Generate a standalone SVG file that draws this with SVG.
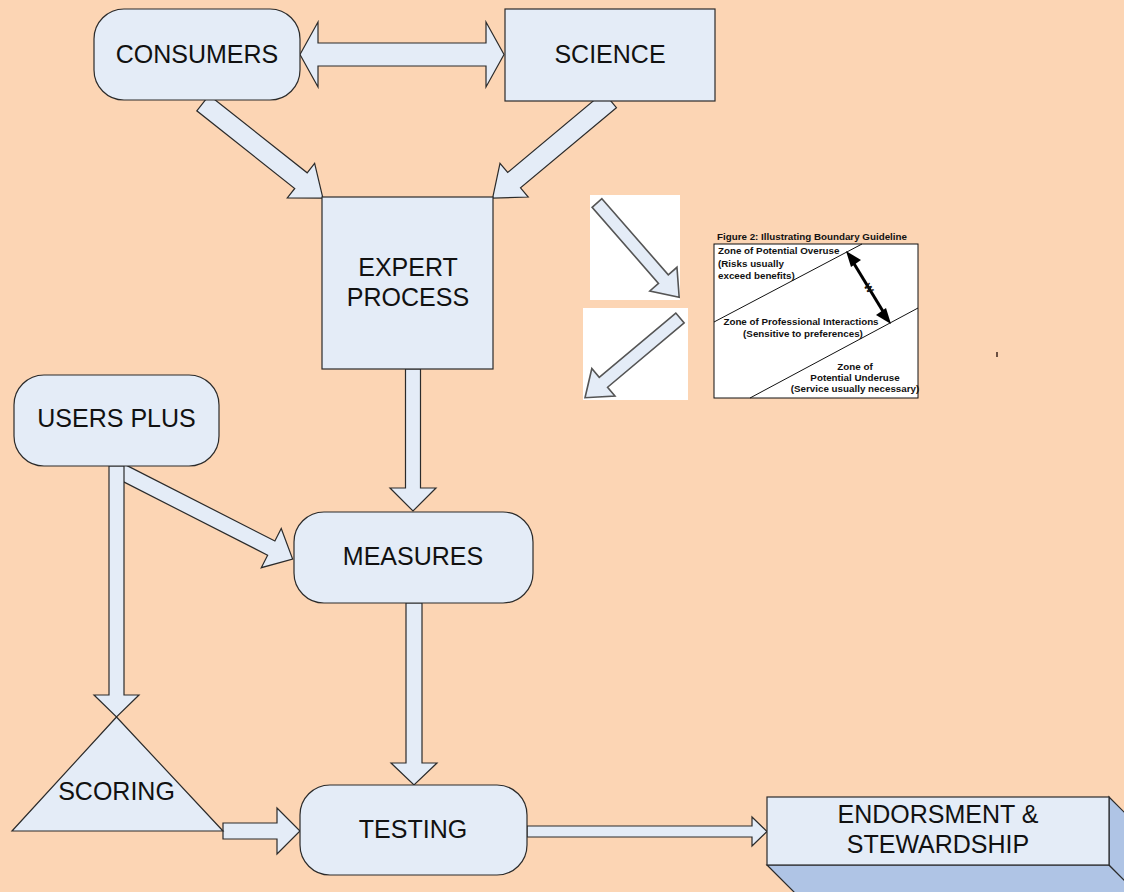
<svg xmlns="http://www.w3.org/2000/svg" width="1124" height="892" viewBox="0 0 1124 892">
<style>
.n{fill:#E4ECF7;stroke:#2b2b2b;stroke-width:1.2}
.a{fill:#E4ECF7;stroke:#2b2b2b;stroke-width:1.2;stroke-linejoin:miter}
.ga{fill:#E4ECF7;stroke:#555;stroke-width:1.6}
.t{font-family:"Liberation Sans",Arial,sans-serif;font-size:25px;fill:#111;text-anchor:middle}
.f{font-family:"Liberation Sans",Arial,sans-serif;font-size:9.8px;font-weight:bold;fill:#111}
.side{fill:#AFC4E5;stroke:#2b2b2b;stroke-width:1.2}
</style>
<rect width="1124" height="892" fill="#FCD5B4"/>

<g id="connectors">
  <polygon class="a" points="300,54.5 318,22 318,43 486,43 486,22 504,54.5 486,87 486,66 318,66 318,87"/>
  <polygon class="a" transform="translate(203,103) rotate(38.4)" points="0,-10 125,-10 125,-22 153,0 125,22 125,10 0,10"/>
  <polygon class="a" transform="translate(610,100) rotate(140.1)" points="0,-10 125,-10 125,-22 153,0 125,22 125,10 0,10"/>
  <polygon class="a" points="405.5,369 420.5,369 420.5,488 436,488 413,511 390,488 405.5,488"/>
  <polygon class="a" transform="translate(118,470) rotate(27)" points="0,-8 172,-8 172,-22 196,0 172,22 172,8 0,8"/>
  <polygon class="a" points="109,466 124,466 124,695 139,695 116.5,717 94,695 109,695"/>
  <polygon class="a" points="406,603 422,603 422,763 437,763 414,785 391,763 406,763"/>
  <polygon class="a" points="223,823 277,823 277,808 300,831 277,854 277,839 223,839"/>
  <polygon class="a" points="527,826 752,826 752,817 767,831.5 752,846 752,837 527,837"/>
</g>

<g id="consumers">
  <rect class="n" x="94" y="9" width="206" height="91" rx="30"/>
  <text class="t" x="197" y="63">CONSUMERS</text>
</g>
<g id="science">
  <rect class="n" x="505" y="9" width="210" height="92"/>
  <text class="t" x="610" y="63">SCIENCE</text>
</g>
<g id="expert-process">
  <rect class="n" x="322" y="197" width="171" height="172"/>
  <text class="t" x="408" y="276">EXPERT</text>
  <text class="t" x="408" y="306">PROCESS</text>
</g>
<g id="users-plus">
  <rect class="n" x="14" y="375" width="205" height="91" rx="30"/>
  <text class="t" x="116.5" y="427">USERS PLUS</text>
</g>
<g id="measures">
  <rect class="n" x="294" y="512" width="239" height="91" rx="30"/>
  <text class="t" x="413" y="565">MEASURES</text>
</g>
<g id="scoring">
  <polygon class="n" points="116.5,717 223,831 12,831"/>
  <text class="t" x="116.5" y="800">SCORING</text>
</g>
<g id="testing">
  <rect class="n" x="300" y="785" width="227" height="90" rx="30"/>
  <text class="t" x="413" y="838">TESTING</text>
</g>
<g id="endorsment">
  <polygon class="side" points="767,865 1109,865 1159,915 817,915"/>
  <polygon class="side" points="1109,797 1159,847 1159,915 1109,865"/>
  <rect class="n" x="767" y="797" width="342" height="68"/>
  <text class="t" x="938" y="823">ENDORSMENT &amp;</text>
  <text class="t" x="938" y="853">STEWARDSHIP</text>
</g>

<g id="inset-arrows">
  <rect x="590" y="195" width="90" height="105" fill="#fff"/>
  <polygon class="ga" transform="translate(597,203) rotate(48.9)" points="0,-6.5 101,-6.5 101,-18 125,0 101,18 101,6.5 0,6.5"/>
  <rect x="583" y="308" width="105" height="92" fill="#fff"/>
  <svg x="583" y="308" width="105" height="92" overflow="hidden">
    <polygon class="ga" transform="translate(97,10) rotate(140)" points="0,-6.5 100,-6.5 100,-18 124,0 100,18 100,6.5 0,6.5"/>
  </svg>
</g>

<g id="figure2">
  <text class="f" x="717" y="240">Figure 2: Illustrating Boundary Guideline</text>
  <rect x="714" y="244" width="204" height="154" fill="#fff" stroke="#111" stroke-width="1"/>
  <line x1="714" y1="322" x2="862" y2="244" stroke="#111" stroke-width="1"/>
  <line x1="750" y1="398" x2="918" y2="308" stroke="#111" stroke-width="1"/>
  <line x1="853" y1="262" x2="884" y2="313" stroke="#000" stroke-width="3"/>
  <polygon points="846,251 861,260 851,267" fill="#000"/>
  <polygon points="891,324 876,315 886,308" fill="#000"/>
  <text class="f" x="0" y="0" transform="translate(866,290) rotate(58)" text-anchor="middle" font-size="11">W</text>
  <text class="f" x="718" y="254">Zone of Potential Overuse</text>
  <text class="f" x="718" y="267">(Risks usually</text>
  <text class="f" x="718" y="279">exceed benefits)</text>
  <text class="f" x="801" y="325" text-anchor="middle">Zone of Professional Interactions</text>
  <text class="f" x="803" y="337" text-anchor="middle">(Sensitive to preferences)</text>
  <text class="f" x="855" y="370" text-anchor="middle">Zone of</text>
  <text class="f" x="855" y="381" text-anchor="middle">Potential Underuse</text>
  <text class="f" x="855" y="392" text-anchor="middle">(Service usually necessary)</text>
</g>
<rect x="996" y="352" width="2" height="5" fill="#6b5042"/>
</svg>
